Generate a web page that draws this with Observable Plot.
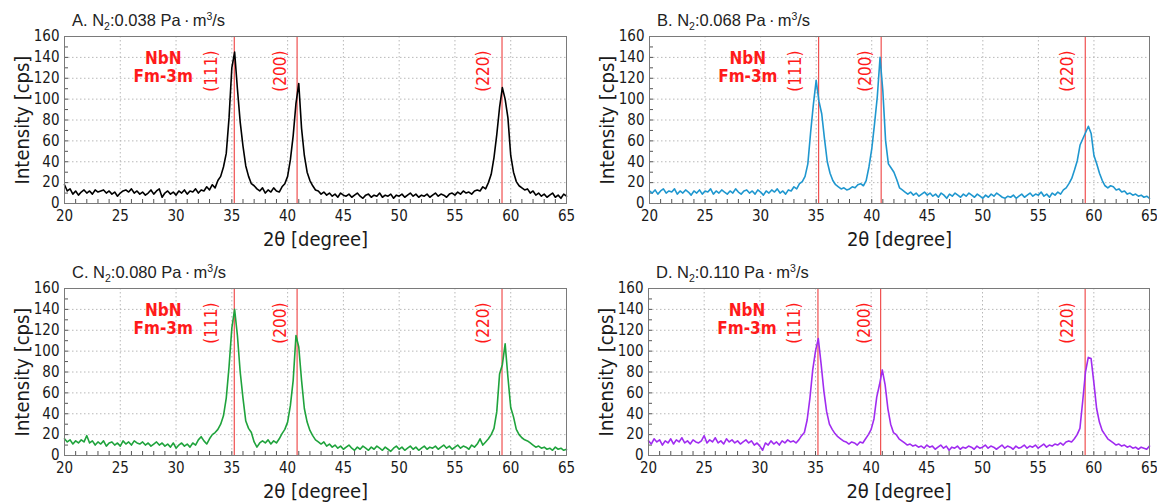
<!DOCTYPE html>
<html>
<head>
<meta charset="utf-8">
<script src="https://cdn.jsdelivr.net/npm/d3@7"></script>
<script src="https://cdn.jsdelivr.net/npm/@observablehq/plot@0.6"></script>
<style>
  html, body { margin: 0; padding: 0; background: #fff; overflow: hidden; }
  #root { position: relative; width: 1157px; height: 504px; }
  .panel { position: absolute; }
  .panel svg { position: absolute; left: 0; top: 0; }
  .title { position: absolute; font-family: "Liberation Sans", Arial, sans-serif; font-size: 16.5px; line-height: 1; color: #222; white-space: nowrap; }
  .title sub, .title sup { font-size: 10.5px; line-height: 0; }
</style>
</head>
<body>
<div id="root"></div>
<script>
// ---------- data ----------
const angleStart = 20;      // 2θ of first sample (degree)
const angleStep = 0.25;     // sampling step (degree)

const panelLetters = ["A", "B", "C", "D"];
const flowRates = ["0.038", "0.068", "0.080", "0.110"];
const seriesColors = ["#000000", "#1f97cf", "#1fa33c", "#a02cf0"];

const intensityA = [
  18,12,14,9,12,8,11,13,10,12,9,13,11,12,13,10,12,9,11,7,
  10,12,13,11,14,10,12,9,11,8,10,13,9,12,14,6,10,12,9,11,
  8,12,10,13,9,12,11,14,10,13,12,16,13,18,15,22,26,35,48,82,
  130,145,110,78,55,36,26,19,17,14,12,15,10,13,11,15,12,11,16,19,
  26,42,65,96,115,72,46,30,22,17,13,12,9,11,8,10,7,9,6,10,
  8,7,9,6,8,10,7,5,8,9,6,8,7,10,6,8,7,9,5,8,
  7,9,6,8,10,7,9,6,8,7,9,6,8,10,7,9,8,6,9,10,
  8,11,9,12,10,11,9,12,13,12,16,14,20,28,44,66,92,111,100,82,
  46,30,21,17,15,13,14,10,12,8,10,7,9,6,8,10,6,8,5,9,
  7
];
const intensityB = [
  12,10,13,9,12,14,10,12,11,14,9,12,10,13,11,8,12,10,13,9,
  12,11,14,9,12,10,13,11,9,12,10,14,11,9,12,13,10,12,9,13,
  11,8,12,10,13,11,14,10,12,9,13,12,16,14,19,21,26,38,68,95,
  118,98,86,62,40,29,22,18,16,14,15,13,14,16,15,18,19,17,22,35,
  52,76,102,140,108,60,38,34,30,23,15,13,11,9,11,8,10,7,9,11,
  8,10,7,9,6,10,8,5,9,7,10,8,6,9,7,10,8,6,9,7,
  5,8,6,9,7,10,8,6,5,7,6,8,5,7,9,6,8,10,7,9,
  8,11,7,9,6,10,8,11,9,13,15,19,24,32,41,56,62,68,74,67,
  46,38,29,22,17,15,17,16,13,14,11,12,9,10,8,9,7,8,6,7,
  5
];
const intensityC = [
  16,13,15,11,14,12,15,13,19,12,14,10,13,11,14,9,12,13,10,12,
  9,14,11,13,10,14,12,11,13,10,12,9,11,13,10,12,9,11,8,12,
  7,10,12,9,11,8,12,10,15,18,14,11,16,20,22,25,30,38,55,85,
  122,140,115,80,55,33,26,22,13,8,12,14,12,15,11,14,12,16,21,25,
  32,48,72,115,104,72,45,32,24,19,15,13,11,13,9,11,8,10,7,9,
  6,8,10,7,5,8,6,9,7,5,8,6,9,7,5,8,6,4,7,9,
  6,8,5,7,9,6,8,5,7,9,6,8,7,9,6,8,10,7,9,6,
  8,10,7,9,8,6,10,8,11,16,10,13,16,20,26,42,78,87,107,75,
  46,37,25,20,17,15,14,12,10,8,9,7,8,6,7,5,8,6,7,5,
  6
];
const intensityD = [
  14,11,16,13,15,10,14,12,16,11,15,13,17,12,14,11,15,13,12,14,
  19,12,15,13,17,12,14,11,16,13,15,12,14,11,13,15,12,14,10,12,
  9,5,12,10,14,11,13,10,14,12,15,13,14,12,15,19,22,34,55,82,
  100,112,88,62,42,30,25,21,18,16,14,13,11,13,12,10,13,12,16,20,
  25,35,56,68,82,68,45,30,22,20,16,14,12,10,11,9,10,8,9,7,
  10,8,9,6,8,10,7,9,5,8,7,9,6,8,7,9,8,6,9,7,
  8,10,7,9,8,6,8,10,7,9,8,6,9,7,8,10,7,9,8,10,
  7,9,11,8,10,9,11,10,12,10,13,14,13,16,20,26,52,80,94,93,
  70,45,32,24,20,16,14,12,10,11,9,10,8,9,7,8,6,8,7,6,
  9
];
const seriesValues = [intensityA, intensityB, intensityC, intensityD];

// reference peaks of NbN (Fm-3m)
const peakLabels = ["(111)", "(200)", "(220)"];
const peakPositions = [35.22, 40.85, 59.22];
const peakLabelX = [33.15, 39.4, 57.6];
const peakLabelTop = 146.5;
const phaseLines = ["NbN", "Fm-3m"];
const phaseLineY = [139, 122];
const phaseX = 28.85;

// axes
const xMajorTicks = [20, 25, 30, 35, 40, 45, 50, 55, 60, 65];
const xMinorTicks = d3.range(21, 65, 1);
const yMajorTicks = [0, 20, 40, 60, 80, 100, 120, 140, 160];
const yMinorTicks = [10, 20, 30, 40, 50, 60, 70, 80, 90, 100, 110, 120, 130, 140, 150];
const xLabel = "2θ [degree]";
const yLabel = "Intensity [cps]";

// ---------- drawing ----------
const FONT = '"DejaVu Sans Condensed", "DejaVu Sans", sans-serif';
const layout = [
  {left: 0,   top: 0,   width: 580, marginRight: 14},
  {left: 585, top: 0,   width: 572, marginRight: 8},
  {left: 0,   top: 252, width: 580, marginRight: 14},
  {left: 584, top: 252, width: 573, marginRight: 8}
];

const root = document.getElementById("root");

seriesValues.forEach((values, k) => {
  const rows = values.map((v, i) => ({angle: angleStart + i * angleStep, intensity: v}));
  const L = layout[k];
  const chart = Plot.plot({
    width: L.width,
    height: 252,
    marginTop: 36,
    marginBottom: 49,
    marginLeft: 64,
    marginRight: L.marginRight,
    style: {fontFamily: FONT, fontSize: "15px", color: "#1a1a1a", background: "transparent", overflow: "visible"},
    x: {domain: [20, 65]},
    y: {domain: [0, 160]},
    marks: [
      Plot.gridX(xMajorTicks.slice(1, -1), {stroke: "#b8b8b8", strokeOpacity: 1, strokeDasharray: "1.5,2.5"}),
      Plot.gridY(yMajorTicks.slice(1, -1), {stroke: "#b8b8b8", strokeOpacity: 1, strokeDasharray: "1.5,2.5"}),
      Plot.axisX(xMinorTicks, {tickSize: -4, tickFormat: () => "", label: null, stroke: "#555"}),
      Plot.axisY(yMinorTicks, {tickSize: -4, tickFormat: () => "", label: null, stroke: "#555"}),
      Plot.axisX(xMajorTicks, {tickSize: 0, tickPadding: 7, label: null}),
      Plot.axisY(yMajorTicks, {tickSize: 0, tickPadding: 5, label: null}),
      Plot.ruleX(peakPositions, {stroke: "#f05050", strokeWidth: 1.2}),
      Plot.line(rows, {x: "angle", y: "intensity", stroke: seriesColors[k], strokeWidth: 1.6}),
      Plot.text(peakLabels, {x: (d, i) => peakLabelX[i], y: peakLabelTop, rotate: -90, textAnchor: "end", lineAnchor: "middle", fill: "#ff1a1a", fontSize: 17}),
      Plot.text(phaseLines, {x: phaseX, y: (d, i) => phaseLineY[i], fill: "#ff1a1a", fontWeight: "bold", fontSize: 17, lineAnchor: "middle", textAnchor: "middle"}),
      Plot.frame({stroke: "#7a7a7a"}),
      Plot.text([xLabel], {frameAnchor: "bottom", dy: 36, fontSize: 20, lineAnchor: "middle", textAnchor: "middle", fill: "#1a1a1a"}),
      Plot.text([yLabel], {frameAnchor: "left", dx: -42, rotate: -90, fontSize: 20, lineAnchor: "middle", textAnchor: "middle", fill: "#1a1a1a"})
    ]
  });
  const div = document.createElement("div");
  div.className = "panel";
  div.style.left = L.left + "px";
  div.style.top = L.top + "px";
  div.style.width = L.width + "px";
  div.style.height = "252px";
  div.appendChild(chart);
  const title = document.createElement("div");
  title.className = "title";
  title.style.left = "72px";
  title.style.top = "12px";
  title.innerHTML = `${panelLetters[k]}. N<sub>2</sub>:${flowRates[k]} Pa\u2009·\u2009m<sup>3</sup>/s`;
  div.appendChild(title);
  root.appendChild(div);
});
</script>
</body>
</html>
